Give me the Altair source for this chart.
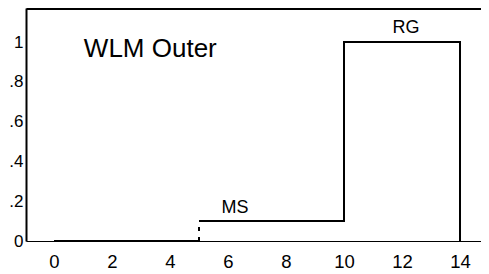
import altair as alt
import pandas as pd

# Step profile (solid parts), split into two pieces
seg_id = ["a", "a", "b", "b", "b", "b", "b"]
seg_x = [0, 5, 5, 10, 10, 14, 14]
seg_y = [0, 0, 0.1, 0.1, 1, 1, 0]

# Dotted riser at x = 5
dot_x = [5, 5]
dot_y = [0, 0.1]

# Annotations
ann_text = ["MS", "RG"]
ann_x = [6.24, 12.14]
ann_y = [0.142, 1.044]

title_text = ["WLM Outer"]
title_x = [1.03]
title_y = [0.927]

# Axes
x_ticks = [0, 2, 4, 6, 8, 10, 12, 14]
y_ticks = [0, 0.2, 0.4, 0.6, 0.8, 1]
y_tick_labels = ["0", ".2", ".4", ".6", ".8", "1"]
x_domain = [-0.9655, 14.724]
y_domain = [0, 1.1709]

FONT = "Liberation Sans"

seg_df = pd.DataFrame({"id": seg_id, "x": seg_x, "y": seg_y, "o": range(len(seg_x))})
dot_df = pd.DataFrame({"x": dot_x, "y": dot_y, "o": range(len(dot_x))})
ann_df = pd.DataFrame({"t": ann_text, "x": ann_x, "y": ann_y})
title_df = pd.DataFrame({"t": title_text, "x": title_x, "y": title_y})

y_label_expr = " : ".join(
    f"abs(datum.value - {v}) < 1e-6 ? '{l}'" for v, l in zip(y_ticks, y_tick_labels)
) + " : ''"

xs = alt.Scale(domain=x_domain, nice=False, zero=False)
ys = alt.Scale(domain=y_domain, nice=False, zero=False)

y_axis = alt.Axis(values=y_ticks, labelExpr=y_label_expr, ticks=False, grid=False,
                  domainColor="black", domainWidth=2, labelFont=FONT, labelFontSize=17,
                  labelColor="black", labelPadding=3, title=None)

solid = alt.Chart(seg_df).mark_line(color="black", strokeWidth=2).encode(
    x=alt.X("x:Q", scale=xs,
            axis=alt.Axis(orient="bottom", values=x_ticks, ticks=False, grid=False,
                          domainColor="black", domainWidth=1, labelFont=FONT,
                          labelFontSize=18.5, labelColor="black", labelPadding=11.5,
                          title=None)),
    y=alt.Y("y:Q", scale=ys, axis=y_axis),
    detail="id:N",
    order="o:Q",
)

dotted = alt.Chart(dot_df).mark_line(color="black", strokeWidth=2, strokeDash=[4, 6]).encode(
    x=alt.X("x:Q", scale=xs,
            axis=alt.Axis(orient="top", labels=False, ticks=False, grid=False,
                          domainColor="black", domainWidth=3, title=None)),
    y=alt.Y("y:Q", scale=ys),
    order="o:Q",
)

ann = alt.Chart(ann_df).mark_text(font=FONT, fontSize=18, color="black",
                                  align="center", baseline="alphabetic").encode(
    x=alt.X("x:Q", scale=xs, axis=None),
    y=alt.Y("y:Q", scale=ys),
    text="t:N",
)

ttl = alt.Chart(title_df).mark_text(font=FONT, fontSize=26, color="black",
                                    align="left", baseline="alphabetic").encode(
    x=alt.X("x:Q", scale=xs, axis=None),
    y=alt.Y("y:Q", scale=ys),
    text="t:N",
)

chart = alt.layer(solid, dotted, ann, ttl).resolve_axis(x="independent").properties(
    width=455,
    height=233,
    autosize=alt.AutoSizeParams(type="none"),
    padding={"left": 18, "top": 0, "right": 0, "bottom": 32},
    background="white",
).configure_view(stroke=None)

chart.save("out.html", embed_options={"renderer": "svg", "actions": False})
